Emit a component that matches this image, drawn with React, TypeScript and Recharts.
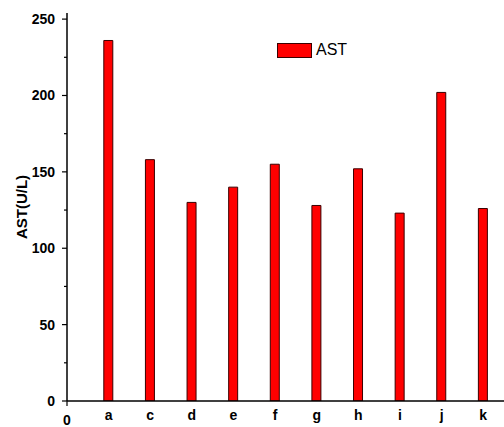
import React from 'react';
import { BarChart, Bar, XAxis, YAxis } from 'recharts';

// Sample groups and their AST activity (U/L)
const groups = ['a', 'c', 'd', 'e', 'f', 'g', 'h', 'i', 'j', 'k'];
const astValues = [236, 158, 130, 140, 155, 128, 152, 123, 202, 126];
const yTicks = [0, 25, 50, 75, 100, 125, 150, 175, 200, 225, 250];
const xTicks = [0, 1, 2, 3, 4, 5, 6, 7, 8, 9, 10];

const data = groups.map((g, i) => ({ pos: i + 1, label: g, ast: astValues[i] }));

const FONT = 'Arial, "Liberation Sans", Helvetica, sans-serif';

const YTick = (props: any) => {
  const { x, y, payload } = props;
  const axisX = x + 12;
  const v = payload.value as number;
  const major = v % 50 === 0;
  return (
    <g>
      <line x1={axisX - (major ? 5 : 3)} x2={axisX} y1={y} y2={y} stroke="#000" strokeWidth={1.2} />
      {major && (
        <text x={x} y={y} dy={5} textAnchor="end" fontFamily={FONT} fontWeight="bold" fontSize={14} fill="#000">
          {v}
        </text>
      )}
    </g>
  );
};

const XTick = (props: any) => {
  const { x, payload } = props;
  const v = payload.value as number;
  if (v === 0) {
    return (
      <g>
        <line x1={x} x2={x} y1={401} y2={406} stroke="#000" strokeWidth={1.2} />
        <text x={x} y={425} textAnchor="middle" fontFamily={FONT} fontWeight="bold" fontSize={14} fill="#000">
          0
        </text>
      </g>
    );
  }
  return (
    <text x={x} y={420} textAnchor="middle" fontFamily={FONT} fontWeight="bold" fontSize={14} fill="#000">
      {groups[v - 1]}
    </text>
  );
};

export default function App() {
  return (
    <div style={{ position: 'absolute', left: 0, top: 0, width: 504, height: 427, background: '#fff' }}>
      <BarChart width={504} height={427} data={data} margin={{ top: 13, right: 0, bottom: 0, left: 0 }}>
        <XAxis
          dataKey="pos"
          type="number"
          domain={[0, 10.5]}
          allowDataOverflow
          padding={{ left: 0, right: 0 }}
          ticks={xTicks}
          interval={0}
          height={26}
          axisLine={{ stroke: '#000', strokeWidth: 1.5 }}
          tickLine={false}
          tick={<XTick />}
        />
        <YAxis
          type="number"
          domain={[0, 254]}
          allowDataOverflow
          ticks={yTicks}
          interval={0}
          width={67}
          tickSize={5}
          tickMargin={7}
          axisLine={{ stroke: '#000', strokeWidth: 1.5 }}
          tickLine={false}
          tick={<YTick />}
          label={{
            value: 'AST(U/L)',
            angle: -90,
            position: 'insideLeft',
            dx: 17,
            dy: 0,
            style: { fontFamily: FONT, fontWeight: 'bold', fontSize: 15, fill: '#000', textAnchor: 'middle' },
          }}
        />
        <Bar dataKey="ast" barSize={9} fill="#ff0000" stroke="#3a0000" strokeWidth={1} isAnimationActive={false} />
      </BarChart>
      <div
        style={{
          position: 'absolute',
          left: 277,
          top: 42,
          display: 'flex',
          alignItems: 'center',
          fontFamily: FONT,
          fontSize: 16,
          color: '#000',
        }}
      >
        <div style={{ width: 33, height: 13, background: '#ff0000', border: '1px solid #3a0000' }} />
        <span style={{ marginLeft: 4, lineHeight: '16px' }}>AST</span>
      </div>
    </div>
  );
}
